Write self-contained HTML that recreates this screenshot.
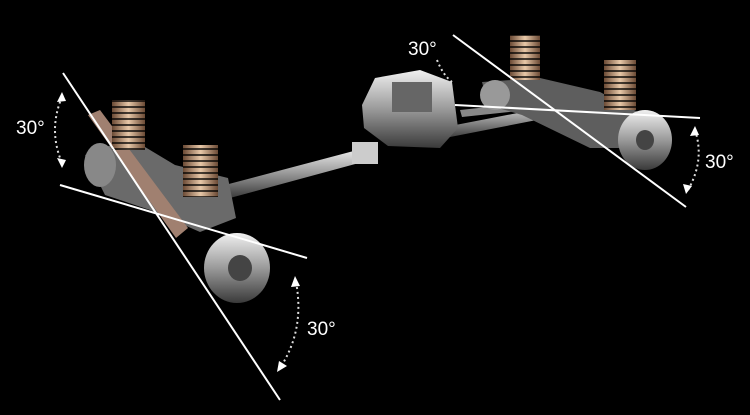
<!DOCTYPE html>
<html><head><meta charset="utf-8"><style>
html,body{margin:0;padding:0;background:#000;width:750px;height:415px;overflow:hidden}
svg{display:block}
text{font-family:"Liberation Sans",sans-serif;fill:#fff;font-size:19px}
</style></head><body>
<svg width="750" height="415" viewBox="0 0 750 415" xmlns="http://www.w3.org/2000/svg">
<defs>
<linearGradient id="m" x1="0" y1="0" x2="0" y2="1">
<stop offset="0" stop-color="#f0f0f0"/><stop offset="0.5" stop-color="#9a9a9a"/><stop offset="1" stop-color="#3a3a3a"/>
</linearGradient>
<linearGradient id="c" x1="0" y1="0" x2="1" y2="0">
<stop offset="0" stop-color="#6b4a35"/><stop offset="0.5" stop-color="#e8c8a8"/><stop offset="1" stop-color="#6b4a35"/>
</linearGradient>
<pattern id="coil" width="10" height="6" patternUnits="userSpaceOnUse">
<rect width="10" height="6" fill="none"/><rect y="4" width="10" height="2" fill="#000" opacity="0.7"/>
</pattern>
</defs>
<rect width="750" height="415" fill="#000"/>
<!-- shafts -->
<polygon points="225,185 365,148 370,160 230,198" fill="url(#m)"/>
<polygon points="440,128 585,100 588,110 445,138" fill="url(#m)"/>
<polygon points="460,110 600,95 602,102 462,117" fill="#888"/>
<!-- differential -->
<path d="M362,105 L375,78 L420,70 L452,82 L458,128 L440,148 L388,146 L364,128 Z" fill="url(#m)"/>
<rect x="392" y="82" width="40" height="30" fill="#666"/>
<rect x="352" y="142" width="26" height="22" fill="#ccc"/>
<!-- left assembly -->
<path d="M85,155 L130,138 L175,165 L228,178 L236,218 L200,232 L150,210 L105,195 Z" fill="#6a6a6a"/>
<path d="M88,115 L100,110 L188,228 L176,238 Z" fill="#a08070"/>
<rect x="112" y="100" width="33" height="50" fill="url(#c)"/>
<rect x="112" y="100" width="33" height="50" fill="url(#coil)"/>
<rect x="183" y="145" width="35" height="52" fill="url(#c)"/>
<rect x="183" y="145" width="35" height="52" fill="url(#coil)"/>
<ellipse cx="237" cy="268" rx="33" ry="35" fill="url(#m)"/>
<ellipse cx="240" cy="268" rx="12" ry="13" fill="#444"/>
<ellipse cx="100" cy="165" rx="16" ry="22" fill="#888"/>
<!-- right assembly -->
<path d="M482,82 L540,78 L600,92 L638,112 L638,148 L590,148 L522,115 L488,105 Z" fill="#5e5e5e"/>
<rect x="510" y="35" width="30" height="45" fill="url(#c)"/>
<rect x="510" y="35" width="30" height="45" fill="url(#coil)"/>
<rect x="604" y="60" width="32" height="50" fill="url(#c)"/>
<rect x="604" y="60" width="32" height="50" fill="url(#coil)"/>
<ellipse cx="645" cy="140" rx="27" ry="30" fill="url(#m)"/>
<ellipse cx="645" cy="140" rx="9" ry="10" fill="#444"/>
<ellipse cx="495" cy="95" rx="15" ry="15" fill="#999"/>
<!-- lines -->
<g stroke="#fff" stroke-width="2">
<line x1="63" y1="73" x2="280" y2="400"/>
<line x1="60" y1="185" x2="307" y2="258"/>
<line x1="453" y1="35" x2="686" y2="207"/>
<line x1="455" y1="105" x2="700" y2="118"/>
</g>
<!-- dotted arcs -->
<g fill="none" stroke="#ddd" stroke-width="2" stroke-dasharray="2,3">
<path d="M62,97 Q48,130 62,163"/>
<path d="M695,130 Q705,160 688,190"/>
<path d="M296,282 Q305,330 280,368"/>
<path d="M437,60 Q443,75 452,82"/>
</g>
<g fill="#fff">
<polygon points="62,92 57,102 66,101"/>
<polygon points="62,168 57,158 66,160"/>
<polygon points="695,126 690,136 699,135"/>
<polygon points="686,194 683,184 692,186"/>
<polygon points="295,276 291,287 300,286"/>
<polygon points="277,372 279,361 287,366"/>
</g>
<text x="16" y="134">30°</text>
<text x="408" y="55">30°</text>
<text x="705" y="168">30°</text>
<text x="307" y="335">30°</text>
</svg>
</body></html>
